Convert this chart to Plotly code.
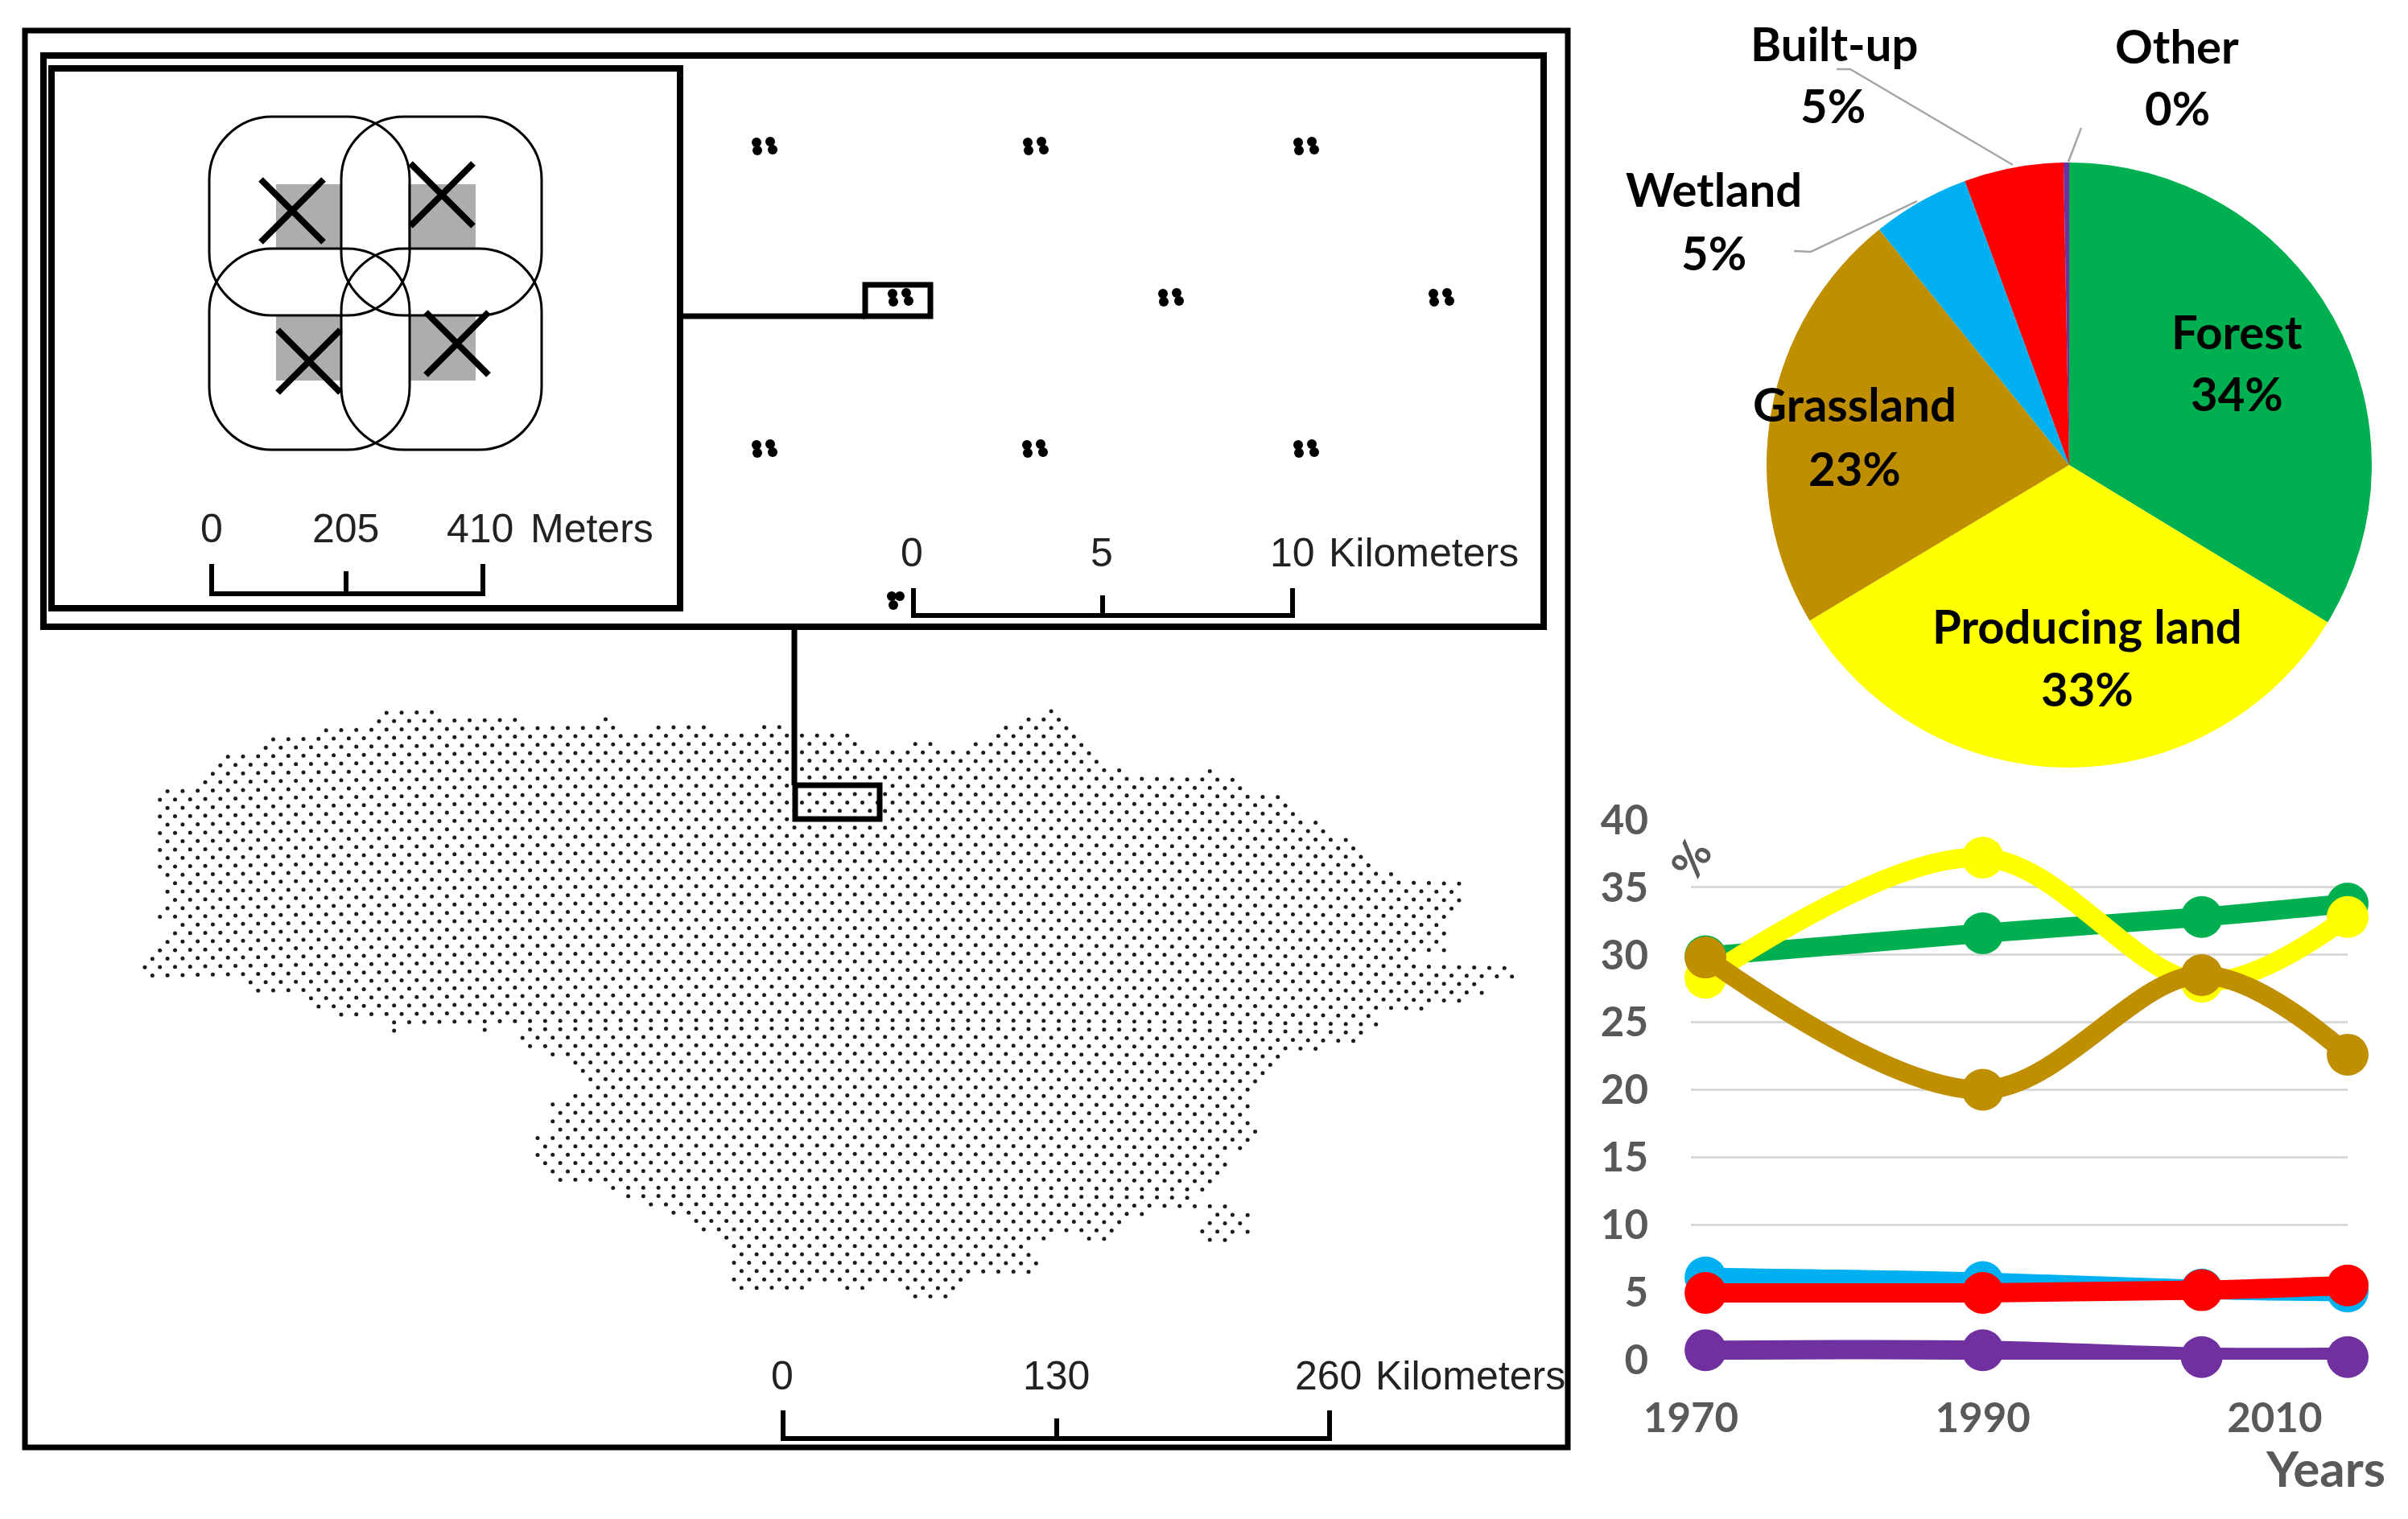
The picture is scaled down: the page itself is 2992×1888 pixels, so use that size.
import plotly.graph_objects as go

W, H = 2992, 1888

# pie
pie_labels = ["Forest", "Producing land", "Grassland", "Wetland", "Built-up", "Other"]
pie_values = [33.7, 32.7, 22.8, 5.2, 5.3, 0.3]
colors = ["#00B050", "#FFFF00", "#BF8F00", "#00B0F0", "#FF0000", "#7030A0"]

# land cover through time
years = [1971, 1990, 2005, 2015]
forest = [29.9, 31.6, 32.8, 33.8]
producing = [28.3, 37.2, 28.0, 32.8]
grassland = [29.8, 20.0, 28.5, 22.6]
wetland = [6.1, 5.75, 5.2, 5.05]
built_up = [4.95, 4.95, 5.15, 5.5]
other = [0.7, 0.7, 0.2, 0.2]
line_series = [forest, producing, grassland, wetland, built_up, other]
y_ticks = [0, 5, 10, 15, 20, 25, 30, 35, 40]
x_ticks = [1970, 1990, 2010]

# sampling grid: extent of every dot row, top row first
map_row_spans = [
    [(471, 532), (1301, 1301)],
    [(463, 635), (746, 746), (1270, 1310)],
    [(400, 756), (810, 868), (942, 965), (1242, 1319)],
    [(331, 1048), (1233, 1327)],
    [(325, 1058), (1130, 1148), (1203, 1336)],
    [(279, 1348)], [(268, 1358)], [(262, 1400), (1494, 1494)],
    [(253, 1524)], [(207, 1533)], [(199, 1579)], [(207, 1588)],
    [(199, 1615)], [(210, 1642)], [(200, 1652)], [(210, 1679)],
    [(203, 1688)], [(213, 1697)], [(205, 1706)], [(214, 1730)],
    [(225, 1815)], [(214, 1806)], [(225, 1815)], [(216, 1803)],
    [(207, 1794)], [(219, 1782)], [(210, 1791)], [(202, 1782)],
    [(191, 1791)], [(183, 1752)], [(176, 1862)], [(187, 1871)],
    [(305, 1839)], [(316, 1832)], [(380, 1821)], [(391, 1758)],
    [(420, 1703)], [(482, 1703)],
    [(492, 492), (601, 601), (655, 1691)],
    [(647, 1685)], [(655, 1636)], [(682, 1594)], [(708, 1585)],
    [(718, 1576)], [(728, 1560)], [(737, 1553)], [(712, 1544)],
    [(683, 1553)], [(696, 1550)], [(685, 1550)], [(696, 1560)],
    [(667, 1550)], [(677, 1544)], [(667, 1512)], [(677, 1522)],
    [(686, 1512)], [(696, 1502)], [(759, 1493)], [(786, 1483)],
    [(814, 1493), (1512, 1531)],
    [(841, 1413), (1518, 1557)],
    [(868, 1388), (1509, 1547)],
    [(876, 1375), (1502, 1553)],
    [(903, 1295), (1349, 1368), (1509, 1528)],
    [(912, 1270)], [(922, 1277)], [(912, 1286)], [(922, 1277)],
    [(912, 1196)],
    [(922, 995), (1046, 1066), (1134, 1190)],
    [(1142, 1179)],
]

# zoomed sample clusters
cluster_x = [949, 1286, 1622, 1118, 1454, 1790, 949, 1285, 1622]
cluster_y = [182, 182, 182, 370, 370, 370, 558, 558, 558]
cluster_dx = [-9, -8, 8, 11]
cluster_dy = [-5, 5, -6, 4]

# inset: the four plots
cross_x = [363, 549, 384, 568]
cross_y = [262, 242, 449, 427]

PITCH_X, PITCH_Y = 18.77, 10.4
ROW_Y0 = 883
ROW_X_EVEN, ROW_X_ODD = 705.5, 714.9
SWAPPED_ROWS = range(38, 58)  # the staggering flips in this band of the map
GRID_BOW = 7  # rows sag towards both ends of the map


def rounded_rect(x0, y0, x1, y1, r):
    k = r * 0.45
    return (
        f"M{x0 + r},{y0} L{x1 - r},{y0} C{x1 - k},{y0} {x1},{y0 + k} {x1},{y0 + r} "
        f"L{x1},{y1 - r} C{x1},{y1 - k} {x1 - k},{y1} {x1 - r},{y1} "
        f"L{x0 + r},{y1} C{x0 + k},{y1} {x0},{y1 - k} {x0},{y1 - r} "
        f"L{x0},{y0 + r} C{x0},{y0 + k} {x0 + k},{y0} {x0 + r},{y0} Z"
    )


def box(x0, y0, x1, y1, width):
    return dict(
        type="rect", x0=x0, y0=y0, x1=x1, y1=y1, xref="x", yref="y",
        line=dict(color="black", width=width), layer="above",
    )


def seg(points, width, color="black"):
    path = "M" + " L".join(f"{x},{y}" for x, y in points)
    return dict(
        type="path", path=path, xref="x", yref="y",
        line=dict(color=color, width=width), layer="above",
    )


def scale_bar(x0, xm, x1, base, top, mid_top):
    return [
        seg([(x0, top), (x0, base), (x1, base), (x1, top)], 6),
        seg([(xm, mid_top), (xm, base)], 6),
    ]


def label(x, y, text, size, family="Lato", weight=700, color="black", angle=0, anchor="center"):
    return dict(
        x=x, y=y, xref="x", yref="y", text=text, showarrow=False, xanchor=anchor,
        yanchor="middle", textangle=angle,
        font=dict(family=family, size=size, color=color, weight=weight),
    )


def map_text(x, y, text, anchor="center"):
    return label(x, y, text, 50, "Liberation Sans", 400, "#222222", anchor=anchor)


# dots on the map
dot_x, dot_y = [], []
for i, spans in enumerate(map_row_spans):
    odd = bool(i % 2) != (i in SWAPPED_ROWS)
    phase = ROW_X_ODD if odd else ROW_X_EVEN
    for x0, x1 in spans:
        k0 = round((x0 - phase) / PITCH_X)
        k1 = round((x1 - phase) / PITCH_X)
        for k in range(k0, k1 + 1):
            x = phase + k * PITCH_X
            dot_x.append(x)
            dot_y.append(ROW_Y0 + i * PITCH_Y + GRID_BOW * ((x - 1000) / 800) ** 2)

clump_x, clump_y = [], []
for cx, cy in zip(cluster_x, cluster_y):
    for dx, dy in zip(cluster_dx, cluster_dy):
        clump_x.append(cx + dx)
        clump_y.append(cy + dy)
# half cluster next to the scale bar
clump_x += [1108, 1110, 1118]
clump_y += [741, 752, 741]

fig = go.Figure()

fig.add_trace(go.Scatter(
    x=dot_x, y=dot_y, mode="markers", xaxis="x", yaxis="y",
    marker=dict(size=5, color="#1c1c1c"), hoverinfo="skip",
))
fig.add_trace(go.Scatter(
    x=clump_x, y=clump_y, mode="markers", xaxis="x", yaxis="y",
    marker=dict(size=12, color="black"), hoverinfo="skip",
))
fig.add_trace(go.Scatter(
    x=cross_x, y=cross_y, mode="markers", xaxis="x", yaxis="y",
    marker=dict(symbol="x-thin", size=78, line=dict(color="black", width=8)),
    hoverinfo="skip",
))

# line chart
for name, values, color in zip(pie_labels, line_series, colors):
    fig.add_trace(go.Scatter(
        x=years, y=values, name=name, mode="lines+markers", xaxis="x2", yaxis="y2",
        line=dict(color=color, width=24, shape="spline", smoothing=1),
        marker=dict(color=color, size=52), cliponaxis=False, hoverinfo="skip",
    ))

# pie
cx, cy, r = 2571, 578, 376
fig.add_trace(go.Pie(
    labels=pie_labels, values=pie_values, sort=False, direction="clockwise",
    rotation=0, textinfo="none", hoverinfo="skip",
    marker=dict(colors=colors, line=dict(width=0)),
    domain=dict(x=[(cx - r) / W, (cx + r) / W], y=[1 - (cy + r) / H, 1 - (cy - r) / H]),
))

shapes = [
    box(31, 38, 1948, 1799, 7),
    box(54, 69, 1918, 779, 8),
    box(64, 85, 845, 756, 8),
    box(1075, 354, 1156, 393, 7),
    box(988, 976, 1093, 1018, 7),
    seg([(845, 393), (1075, 393)], 7),
    seg([(987, 779), (987, 976)], 7),
]
for x0, y0, x1, y1 in [
    (343, 229, 424, 309), (507, 229, 591, 309), (343, 392, 424, 473), (510, 392, 591, 473)
]:
    shapes.append(dict(
        type="rect", x0=x0, y0=y0, x1=x1, y1=y1, xref="x", yref="y",
        fillcolor="#ADADAD", line=dict(width=0), layer="below",
    ))
for x0, y0, x1, y1 in [
    (260, 145, 509, 392), (424, 145, 673, 392), (260, 309, 509, 559), (424, 309, 673, 559)
]:
    shapes.append(dict(
        type="path", path=rounded_rect(x0, y0, x1, y1, 78), xref="x", yref="y",
        line=dict(color="black", width=3), layer="above",
    ))
shapes += scale_bar(263, 430, 600, 738, 701, 710)
shapes += scale_bar(1135, 1370, 1606, 765, 731, 740)
shapes += scale_bar(973, 1313, 1652, 1788, 1753, 1763)
# pie leader lines
shapes.append(seg([(2282, 86), (2299, 86), (2501, 205)], 2.5, "#A6A6A6"))
shapes.append(seg([(2586, 159), (2570, 201)], 2.5, "#A6A6A6"))
shapes.append(seg([(2229, 312), (2250, 313), (2382, 250)], 2.5, "#A6A6A6"))

annotations = [
    map_text(263, 657, "0"), map_text(429, 657, "205"), map_text(596, 657, "410"),
    map_text(657, 657, "Meters", "left"),
    map_text(1133, 687, "0"), map_text(1369, 687, "5"), map_text(1606, 687, "10"),
    map_text(1649, 687, "Kilometers", "left"),
    map_text(972, 1710, "0"), map_text(1312, 1710, "130"), map_text(1650, 1710, "260"),
    map_text(1707, 1710, "Kilometers", "left"),
    label(2279, 53, "Built-up", 58), label(2277, 130, "5%", 58),
    label(2705, 56, "Other", 58), label(2705, 133, "0%", 58),
    label(2129, 234, "Wetland", 58), label(2129, 313, "5%", 58),
    label(2779, 411, "Forest", 58), label(2779, 488, "34%", 58),
    label(2304, 501, "Grassland", 58), label(2304, 581, "23%", 58),
    label(2593, 777, "Producing land", 58), label(2593, 855, "33%", 58),
    label(2100, 1067, "%", 54, color="#595959", angle=-60),
    label(2889, 1824, "Years", 62, color="#595959"),
]

tick_font = dict(family="Lato", size=51, color="#595959", weight=700)
fig.update_layout(
    template="none",
    width=W, height=H, autosize=False, showlegend=False,
    margin=dict(l=0, r=0, t=0, b=0, pad=0, autoexpand=False),
    paper_bgcolor="white", plot_bgcolor="rgba(0,0,0,0)",
    xaxis=dict(domain=[0, 1], range=[0, W], visible=False, fixedrange=True, automargin=False),
    yaxis=dict(domain=[0, 1], range=[H, 0], visible=False, fixedrange=True, automargin=False),
    xaxis2=dict(
        domain=[2101 / W, 2917 / W], range=[1970, 2015], anchor="y2", automargin=False,
        tickmode="array", tickvals=x_ticks, showgrid=False, zeroline=False,
        showline=False, ticks="", tickfont=tick_font, ticklabelstandoff=38, fixedrange=True,
    ),
    yaxis2=dict(
        domain=[1 - 1690 / H, 1 - 1019 / H], range=[0, 40], anchor="x2", automargin=False,
        tickmode="array", tickvals=y_ticks, gridcolor="#D9D9D9", gridwidth=3,
        zeroline=False, showline=False, ticks="", tickfont=tick_font, ticklabelstandoff=52,
        fixedrange=True,
    ),
    shapes=shapes, annotations=annotations,
)

fig.write_html(
    "out.html",
    config=dict(displayModeBar=False),
    post_script="document.body.style.margin='0';document.body.style.overflow='hidden';",
)
